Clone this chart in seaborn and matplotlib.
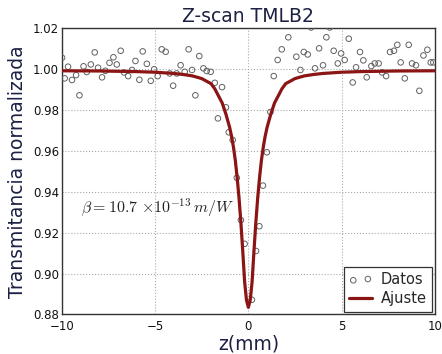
import matplotlib
matplotlib.use("Agg")
import matplotlib.pyplot as plt
import seaborn as sns
import pandas as pd

# Measured data (Datos)
z_data = [-9.98, -9.84, -9.66, -9.45, -9.23, -9.05, -8.83, -8.66, -8.44, -8.23,
          -8.05, -7.84, -7.66, -7.44, -7.23, -7.05, -6.84, -6.66, -6.44, -6.23,
          -6.05, -5.84, -5.66, -5.44, -5.23, -5.05, -4.86, -4.64, -4.43, -4.21,
          -4.03, -3.84, -3.63, -3.41, -3.20, -3.02, -2.84, -2.63, -2.41, -2.23,
          -2.02, -1.80, -1.63, -1.41, -1.20, -1.05, -0.84, -0.62, -0.40, -0.20,
          0.19, 0.41, 0.59, 0.78, 0.99, 1.18, 1.36, 1.57, 1.79, 2.14,
          2.57, 2.79, 2.97, 3.18, 3.36, 3.57, 3.79, 4.00, 4.18, 4.36,
          4.57, 4.79, 4.97, 5.16, 5.38, 5.59, 5.77, 5.98, 6.16, 6.34,
          6.59, 6.77, 6.98, 7.16, 7.38, 7.59, 7.80, 7.98, 8.16, 8.38,
          8.59, 8.77, 8.98, 9.16, 9.38, 9.59, 9.77, 9.91]
t_data = [1.0057, 0.9956, 1.0013, 0.9948, 0.9972, 0.9873, 1.0015, 0.9987, 1.0024, 1.0083,
          1.0008, 0.9961, 0.9993, 1.0032, 1.0059, 1.0024, 1.0091, 0.9985, 0.9967, 0.9997,
          1.0041, 0.9949, 1.0088, 1.0027, 0.9944, 1.0000, 0.9967, 1.0098, 1.0086, 0.9980,
          0.9920, 0.9980, 1.0020, 0.9988, 1.0098, 0.9997, 0.9873, 1.0065, 1.0005, 0.9992,
          0.9988, 0.9934, 0.9760, 0.9913, 0.9814, 0.9692, 0.9654, 0.9469, 0.9262, 0.9146,
          0.8872, 0.9111, 0.9232, 0.9431, 0.9594, 0.9791, 0.9967, 1.0046, 1.0098, 1.0157,
          1.0062, 0.9997, 1.0085, 1.0073, 1.0205, 1.0005, 1.0103, 1.0020, 1.0157, 1.0205,
          1.0091, 1.0029, 1.0078, 1.0046, 1.0150, 0.9936, 1.0010, 1.0085, 1.0044, 0.9961,
          1.0016, 1.0029, 1.0029, 0.9985, 0.9967, 1.0085, 1.0091, 1.0120, 1.0034, 0.9956,
          1.0120, 1.0029, 1.0020, 0.9895, 1.0068, 1.0096, 1.0034, 1.0034]

# Fitted curve (Ajuste)
z_fit = [-10, -8, -6, -5, -4, -3.5, -3, -2.5, -2.0, -1.8, -1.6, -1.4, -1.2, -1.0,
         -0.9, -0.8, -0.7, -0.6, -0.5, -0.4, -0.3, -0.2, -0.1, 0.0,
         0.1, 0.2, 0.3, 0.4, 0.5, 0.6, 0.7, 0.8, 0.9, 1.0,
         1.2, 1.4, 1.6, 1.8, 2.0, 2.5, 3, 3.5, 4, 5, 6, 8, 10]
t_fit = [0.9993, 0.9992, 0.9989, 0.9986, 0.9980, 0.9975, 0.9968, 0.9955, 0.9930, 0.9905,
         0.9870, 0.9835, 0.9780, 0.9715,
         0.9672, 0.9620, 0.9555, 0.9470, 0.9370, 0.9250, 0.9110, 0.8960, 0.8870, 0.8835,
         0.8870, 0.8960, 0.9110, 0.9250, 0.9370, 0.9470, 0.9555, 0.9620, 0.9672, 0.9715,
         0.9780, 0.9835, 0.9870, 0.9905, 0.9930, 0.9955, 0.9968, 0.9975, 0.9980, 0.9986,
         0.9989, 0.9992, 0.9993]

x_ticks = [-10, -5, 0, 5, 10]
y_ticks = [0.88, 0.90, 0.92, 0.94, 0.96, 0.98, 1.00, 1.02]

title = "Z-scan TMLB2"
xlabel = "z(mm)"
ylabel = "Transmitancia normalizada"
beta_text = r"$\beta{=}10.7\ {\times}10^{-13}\,m/W$"

sns.set_theme(style="whitegrid")
plt.rcParams["font.family"] = ["DejaVu Sans"]
plt.rcParams["mathtext.fontset"] = "cm"

navy = "#1c2043"
red = "#8b1414"

df_data = pd.DataFrame({"z": z_data, "T": t_data})
df_fit = pd.DataFrame({"z": z_fit, "T": t_fit})

fig = plt.figure(figsize=(4.42, 3.54), dpi=100)
ax = fig.add_axes([0.1396, 0.1116, 0.8446, 0.8079])
ax.set_facecolor("white")

sns.scatterplot(data=df_data, x="z", y="T", ax=ax, marker="o", s=16,
                facecolor="none", edgecolor="#606060", linewidth=0.7,
                label="Datos", zorder=3)
sns.lineplot(data=df_fit, x="z", y="T", ax=ax, color=red, linewidth=2.3,
             label="Ajuste", zorder=4, sort=False, estimator=None)

ax.set_xlim(-10, 10)
ax.set_ylim(0.88, 1.02)
ax.set_xticks(x_ticks)
ax.set_yticks(y_ticks)
ax.set_xticklabels(["\u2212" + str(abs(v)) if v < 0 else str(v) for v in x_ticks])
ax.set_yticklabels([f"{v:.2f}" for v in y_ticks])
ax.tick_params(axis="both", labelsize=8.5, colors="black", direction="in",
               length=4, width=0.8)
ax.tick_params(axis="y", pad=2)
ax.tick_params(axis="x", pad=4)
ax.tick_params(axis="both", labelcolor="#111111")

ax.grid(True, color="#aaaaaa", linestyle=":", linewidth=0.8)
for sp in ax.spines.values():
    sp.set_color("#333333")
    sp.set_linewidth(1.0)

ax.set_title(title, fontsize=13.5, color=navy, pad=5)
ax.set_xlabel(xlabel, fontsize=13.5, color=navy, labelpad=1)
ax.set_ylabel(ylabel, fontsize=13.5, color=navy, labelpad=4)

ax.text(-8.98, 0.9321, beta_text, fontsize=11.5, color="#222222",
        va="center", ha="left")

leg = ax.legend(loc="lower right", scatterpoints=2, fontsize=10.5,
                fancybox=False, framealpha=1, edgecolor="#333333",
                borderaxespad=0.2, handlelength=1.6, handletextpad=0.6,
                borderpad=0.35, labelspacing=0.3)
leg.get_frame().set_linewidth(0.9)

fig.savefig("out.png", dpi=100)
